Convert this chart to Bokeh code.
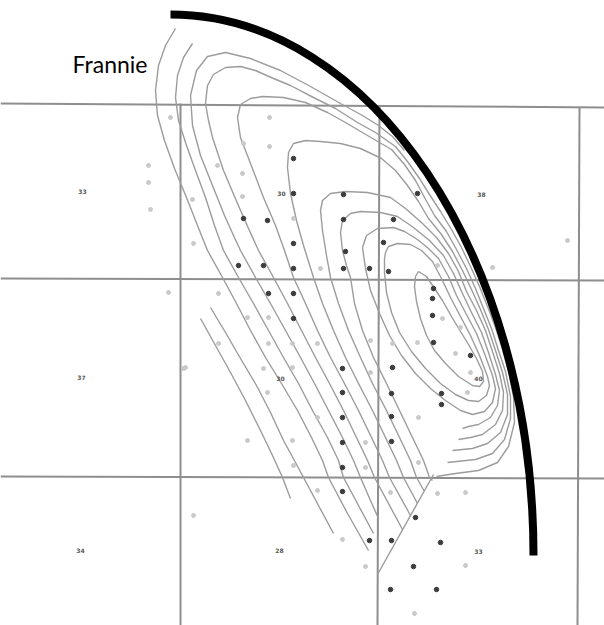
from bokeh.plotting import figure
from bokeh.models import Range1d
from bokeh.embed import file_html
from bokeh.resources import INLINE
from bokeh.core.properties import value

# ---------------- data (pixel-like coordinates) ----------------
# reference grid lines of the map (x0, y0, x1, y1)
grid_x0 = [0, 0, 0, 180, 379, 579]
grid_y0 = [103, 278, 476, 103, 105, 107]
grid_x1 = [604, 604, 604, 180, 377, 577]
grid_y1 = [107, 280, 478, 625, 625, 625]

# traced contour lines
contour_A = [(200,318),(215,345),(230,372),(245,400),(260,430),(272,455),(282,477),(290,498)]
contour_B = [(210,307),(225,332),(240,358),(256,385),(270,412),(283,440),(295,462),(303,477),(318,505),(333,533)]
contour_C1 = [(175,28),(165,45),(158,65),(155,90),(157,115),(164,140),(174,168),(186,197),(197,225),(207,250),
              (222,277),(236,303),(250,330),(265,357),(281,383),(297,410),(311,437),(322,460),(328,477),(347,513),(368,550)]
contour_C2 = [(192,43),(183,57),(177,75),(175,97),(178,120),(186,145),(195,170),(205,197),(214,225),(223,250),
              (238,277),(253,303),(268,330),(283,357),(298,383),(312,410),(327,437),(338,460),(343,477),(358,505),(373,533)]
contour_C3 = [(404,150),(392,136),(378,125),(362,115),(340,103),(310,86),(280,70),(250,58),(225,52),(207,56),(196,70),
              (190,95),(192,125),(200,155),(212,185),(224,215),(233,235),(240,250),(255,277),(270,303),(285,330),
              (300,357),(314,383),(328,410),(342,437),(353,460),(360,477),(370,500),(378,518)]
contour_7 = [(436,476),(455,473),(478,470),(497,462),(508,446),(514,422),(513,396),(508,371),(502,349),(495,327),
             (487,306),(479,286),(470,266),(461,247),(451,229),(440,211),(429,194),(419,178),(407,161),(395,146),
             (375,132),(357,122),(335,108),(313,97),(290,85),(273,78),(255,70),(240,66),(225,67),(213,74),(207,85),
             (205,103),(208,120),(212,137),(223,170),(237,203),(248,228),(258,250),(273,277),(287,303),(301,330),
             (315,357),(329,383),(343,410),(356,437),(367,460),(374,477),(402,529)]
contour_6 = [(447,462),(475,459),(492,453),(504,439),(510,418),(510,396),(505,371),(498,350),(491,328),(483,308),
             (475,288),(466,268),(456,249),(446,231),(434,215),(424,197),(415,180),(404,164),(391,149),(367,135),
             (345,122),(327,112),(305,102),(283,97),(262,96),(250,98),(240,104),(237,117),(240,137),(250,163),
             (263,197),(275,225),(284,250),(293,277),(305,303),(317,330),(330,357),(344,383),(358,410),(371,437),
             (382,460),(389,477),(410,515)]
contour_5 = [(452,450),(472,448),(487,443),(500,432),(507,414),(507,394),(502,372),(495,350),(488,329),(480,309),
             (471,289),(462,270),(452,251),(441,234),(428,218),(418,201),(407,185),(395,170),(381,158),(360,148),
             (340,143),(320,141),(305,140),(293,143),(288,152),(287,167),(290,193),(296,220),(303,245),(313,277),
             (322,303),(333,330),(345,357),(358,383),(372,410),(385,437),(396,460),(403,477),(417,503)]
contour_4 = [(458,439),(470,437),(482,434),(495,424),(502,410),(503,392),(499,373),(492,351),(485,330),(476,310),
             (466,291),(458,271),(448,253),(436,237),(421,222),(405,208),(390,197),(367,192),(345,191),(330,193),
             (322,200),(320,210),(322,230),(326,255),(330,277),(338,303),(348,330),(360,357),(372,383),(386,410),
             (399,437),(410,460),(416,477),(424,491)]
contour_3 = [(462,428),(468,426),(478,424),(490,417),(497,405),(499,390),(495,374),(488,352),(481,332),(471,312),
             (462,293),(453,273),(443,255),(429,240),(413,227),(397,216),(380,212),(360,211),(350,213),(342,220),
             (340,232),(342,250),(346,265),(350,277),(354,303),(362,330),(373,357),(386,383),(399,410),(412,437),
             (423,460),(429,477),(432,480)]
contour_2 = [(362,247),(366,235),(377,228),(393,227),(404,231),(417,239),(428,248),(438,258),(448,276),(456,295),
             (466,314),(476,333),(484,353),(492,375),(495,388),(492,402),(484,411),(472,414),(460,410),(445,400),
             (430,388),(415,373),(401,355),(389,335),(379,313),(370,290),(365,268),(362,247)]
contour_1 = [(385,252),(388,246),(397,243),(410,244),(421,250),(432,261),(441,278),(450,297),(460,316),(470,335),
             (479,355),(487,376),(489,385),(486,395),(478,401),(468,400),(455,394),(440,383),(425,368),(411,351),
             (399,332),(391,312),(386,292),(384,272),(384,258),(385,252)]
contour_0 = [(418,271),(426,276),(434,288),(442,300),(451,316),(460,331),(468,344),(476,358),(482,371),(483,381),
             (479,386),(472,385),(458,376),(445,363),(434,350),(426,335),(420,318),(416,301),(414,286),(415,276),(418,271)]

# boundary of the contoured area
hull_x = [433, 377]
hull_y = [474, 574]

# observation points
dark_x = [293,293,243,267,293,238,263,293,268,293,293,343,417,343,393,345,383,343,369,388,
          433,432,432,433,470,392,391,391,391,441,441,342,342,342,342,342,342,415,369,391,440,413,390,436]
dark_y = [158,193,218,220,243,265,265,268,293,293,318,194,193,219,219,251,242,268,268,271,
          288,298,315,342,355,367,393,416,441,393,404,368,392,417,442,467,491,517,540,540,542,566,589,589]
gray_x = [170,269,243,269,148,148,150,192,242,217,242,193,168,567,492,437,460,442,417,467,418,418,455,470,
          293,320,218,247,268,218,268,292,317,370,185,292,370,267,263,317,247,293,365,317,390,193,365,392,
          437,465,342,365,465,414,183,292]
gray_y = [117,117,143,146,165,182,209,199,196,165,173,243,292,240,267,265,327,318,342,392,417,462,353,372,
          218,268,293,317,317,343,343,343,343,340,367,367,372,392,368,417,440,465,467,490,492,515,442,343,
          493,492,539,566,565,613,368,440]

# cell labels (small station numbers)
label_x = [82, 281, 481, 81, 280, 478, 80, 279, 478]
label_y = [191, 193, 194, 377, 378, 378, 550, 550, 551]
label_text = ["33", "30", "38", "37", "30", "40", "34", "28", "33"]

# thick annotation arc (quarter ellipse) and its name
arc_cx, arc_cy = 170, 555
arc_rx, arc_ry = 363, 541
title_text = "Frannie"
title_x, title_y = 72, 63

# ---------------- figure ----------------
W, H = 604, 625
p = figure(width=W, height=H, x_range=Range1d(0, W), y_range=Range1d(H, 0),
           x_axis_type=None, y_axis_type=None, toolbar_location=None,
           output_backend="svg", min_border=0)
p.outline_line_color = None
p.xgrid.visible = False
p.ygrid.visible = False
p.background_fill_color = "white"

p.segment(grid_x0, grid_y0, grid_x1, grid_y1, line_color="#8e8e8e", line_width=2)

contours = [contour_A, contour_B, contour_C1, contour_C2, contour_C3, contour_7, contour_6,
            contour_5, contour_4, contour_3, contour_2, contour_1, contour_0]
xs = [[pt[0] for pt in c] for c in contours]
ys = [[pt[1] for pt in c] for c in contours]
p.multi_line(xs, ys, line_color="#9c9c9c", line_width=1.4, line_join="round")
p.line(hull_x, hull_y, line_color="#9c9c9c", line_width=1.4)

p.scatter(gray_x, gray_y, size=4, color="#c9c9c9", marker="circle")
p.scatter(dark_x, dark_y, size=4.5, color="#3c3c3c", marker="circle")
p.text(label_x, label_y, text=label_text, text_font=value("DejaVu Sans"), text_font_size="6px",
       text_font_style="bold", text_color="#555555", text_align="center", text_baseline="middle")

k = 0.5523
p.bezier(x0=[arc_cx], y0=[arc_cy - arc_ry], x1=[arc_cx + arc_rx], y1=[arc_cy],
         cx0=[arc_cx + k * arc_rx], cy0=[arc_cy - arc_ry],
         cx1=[arc_cx + arc_rx], cy1=[arc_cy - k * arc_ry],
         line_color="black", line_width=8)

p.text([title_x], [title_y], text=[title_text], text_font=value("Lato"), text_font_size="23px",
       text_color="black", text_align="left", text_baseline="alphabetic")

open("out.html", "w").write(file_html(p, INLINE))
